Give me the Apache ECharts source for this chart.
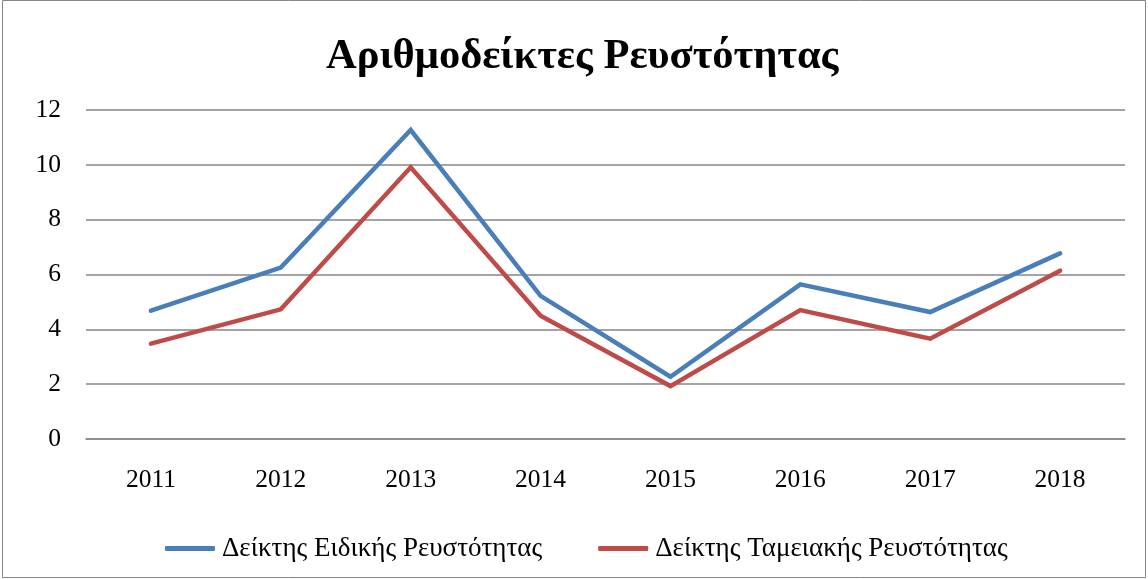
<!DOCTYPE html>
<html>
<head>
<meta charset="utf-8">
<script src="https://cdn.jsdelivr.net/npm/echarts@6/dist/echarts.min.js"></script>
<style>
html,body{margin:0;padding:0;background:#fff;}
#chart{width:1148px;height:579px;}
</style>
</head>
<body>
<div id="chart"></div>
<script>
const titleText = "Αριθμοδείκτες Ρευστότητας";
const years = ["2011","2012","2013","2014","2015","2016","2017","2018"];
const seriesNames = ["Δείκτης Ειδικής Ρευστότητας","Δείκτης Ταμειακής Ρευστότητας"];
const specialLiquidity = [4.68, 6.25, 11.27, 5.22, 2.27, 5.64, 4.63, 6.77];
const cashLiquidity = [3.48, 4.73, 9.91, 4.50, 1.93, 4.70, 3.66, 6.14];
const yTicks = {min: 0, max: 12, interval: 2};

const font = "'Liberation Serif','Times New Roman',serif";
const chart = echarts.init(document.getElementById('chart'));
chart.setOption({
  backgroundColor: '#fff',
  animation: false,
  title: {
    text: titleText, left: 321, top: 31,
    textStyle: {fontFamily: font, fontSize: 42.5, fontWeight: 'bold', color: '#000'}
  },
  graphic: [{
    type: 'rect', shape: {x: 2.5, y: 0.5, width: 1143, height: 577},
    style: {fill: 'none', stroke: '#868686', lineWidth: 1}, silent: true
  }],
  legend: {
    bottom: 12, left: 160, itemGap: 56,
    itemWidth: 50, itemHeight: 5, icon: 'roundRect',
    textStyle: {fontFamily: font, fontSize: 27, color: '#000', padding: [0, 0, 0, 2]},
    data: seriesNames
  },
  grid: {left: 86, right: 23, top: 110, bottom: 140},
  xAxis: {
    type: 'category', data: years, boundaryGap: true,
    axisLine: {show: true, lineStyle: {color: '#868686', width: 1.5}},
    axisTick: {show: false},
    axisLabel: {fontFamily: font, fontSize: 25.5, color: '#000', margin: 28}
  },
  yAxis: {
    type: 'value', min: yTicks.min, max: yTicks.max, interval: yTicks.interval,
    axisLine: {show: false}, axisTick: {show: false},
    splitLine: {lineStyle: {color: '#868686', width: 1.5}},
    axisLabel: {fontFamily: font, fontSize: 25.5, color: '#000', margin: 25}
  },
  series: [
    {name: seriesNames[0], type: 'line', data: specialLiquidity, showSymbol: false, symbol: 'none',
     lineStyle: {color: '#4A7EBB', width: 4.5, cap: 'round', join: 'miter'}, itemStyle: {color: '#4A7EBB'}},
    {name: seriesNames[1], type: 'line', data: cashLiquidity, showSymbol: false, symbol: 'none',
     lineStyle: {color: '#BE4B48', width: 4.5, cap: 'round', join: 'miter'}, itemStyle: {color: '#BE4B48'}}
  ]
});
</script>
</body>
</html>
